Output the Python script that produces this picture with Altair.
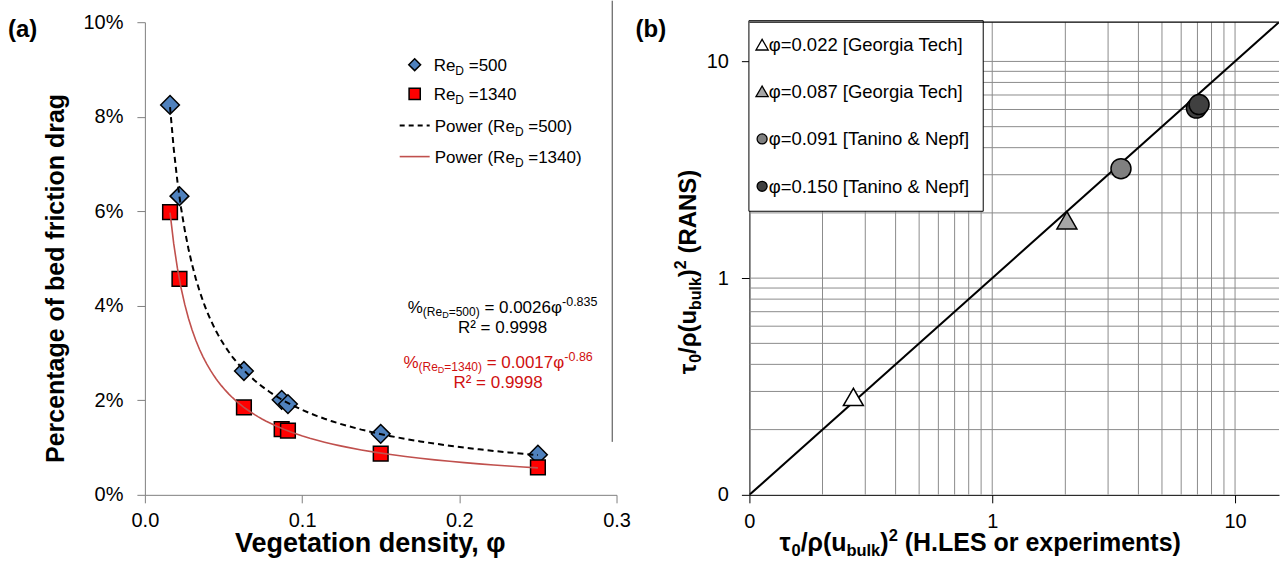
import altair as alt
import pandas as pd

FONT = "Liberation Sans"

# ---------------- data: (a) bed friction share vs vegetation density ----------------
phi = [0.016, 0.022, 0.063, 0.087, 0.091, 0.150, 0.250]
drag_re500 = [0.0825, 0.0632, 0.0262, 0.0201, 0.0192, 0.0129, 0.0085]
drag_re1340 = [0.0598, 0.0457, 0.0185, 0.0139, 0.0136, 0.0087, 0.0058]

# ---------------- data: (b) RANS vs H.LES / experiments ----------------
b_series = ["φ=0.022 [Georgia Tech]", "φ=0.087 [Georgia Tech]",
            "φ=0.091 [Tanino & Nepf]", "φ=0.150 [Tanino & Nepf]"]
b_point_series = [0, 1, 2, 3, 3]
b_les = [0.268, 2.03, 3.39, 6.93, 7.11]
b_rans = [0.283, 1.85, 3.20, 6.09, 6.32]
b_fill = ["#FFFFFF", "#A6A6A6", "#808080", "#404040"]
b_shape = ["triangle-up", "triangle-up", "circle", "circle"]
b_size = [400, 400, 320, 320]

grid_minor = [0.2, 0.3, 0.4, 0.5, 0.6, 0.7, 0.8, 0.9, 1, 2, 3, 4, 5, 6, 7, 8, 9, 10]
LOG_MAX = 15.17

# ---------------- rich text helpers (sub/superscripts) ----------------
REG = {' ': .278, '(': .333, ')': .333, '%': .889, '-': .333, '.': .278, '=': .584,
       'D': .722, 'P': .667, 'R': .722, 'e': .556, 'o': .556, 'w': .722, 'r': .333,
       '²': .333, 'φ': .65, '[': .278, ']': .278, 'G': .778, 'g': .556, 'i': .222,
       'a': .556, 'T': .611, 'c': .5, 'h': .556, 'n': .556, '&': .667, 'N': .722,
       'p': .556, 'f': .278}
BOLD = {' ': .278, '(': .333, ')': .333, '/': .278, '.': .278, 'A': .722, 'E': .667,
        'H': .722, 'L': .611, 'N': .722, 'R': .722, 'S': .667, 'b': .611, 'e': .556,
        'i': .278, 'k': .556, 'l': .278, 'm': .889, 'n': .611, 'o': .611, 'p': .611,
        'r': .389, 's': .556, 't': .333, 'u': .611, 'x': .556, 'τ': .48, 'ρ': .61,
        'a': .556}


def text_width(s, size, bold=False):
    table = BOLD if bold else REG
    return sum(table.get(ch, 0.556) for ch in s) * size


def rich(runs, x0, y0, bold=False, vertical=False, color="black", anchor="left"):
    """Lay out runs of (text, font size, baseline shift) one after another.

    Leading blanks would be collapsed by the SVG renderer, so they are
    turned into an offset instead of being drawn.
    """
    total = sum(text_width(t, s, bold) for t, s, _ in runs)
    off = -total / 2 if anchor == "center" else 0.0
    rows = []
    for t, s, sh in runs:
        body = t.lstrip(" ")
        off += text_width(t[:len(t) - len(body)], s, bold)
        if vertical:
            rows.append(dict(t=body, px=x0 + sh, py=y0 - off, fs=s, c=color))
        else:
            rows.append(dict(t=body, px=x0 + off, py=y0 + sh, fs=s, c=color))
        off += text_width(body, s, bold)
    return rows


def text_layer(rows, bold=False, vertical=False):
    return alt.Chart(pd.DataFrame(rows)).mark_text(
        align="left", baseline="alphabetic", font=FONT,
        fontWeight="bold" if bold else "normal",
        angle=270 if vertical else 0,
    ).encode(
        x=alt.X("px:Q", scale=None, title=None),
        y=alt.Y("py:Q", scale=None, title=None),
        text="t:N",
        size=alt.Size("fs:Q", scale=None, legend=None),
        color=alt.Color("c:N", scale=None, legend=None),
    )


# ============================ panel (a) ============================
W_A, H_A = 472, 473
df_a = pd.DataFrame({
    "phi": phi * 2,
    "drag": drag_re500 + drag_re1340,
    "series": ["500"] * len(phi) + ["1340"] * len(phi),
})

x_a = alt.X("phi:Q", scale=alt.Scale(domain=[0, 0.3], nice=False),
            axis=alt.Axis(values=[0, 0.1, 0.2, 0.3], format=".1f", grid=False,
                          labelFlush=False, labelOverlap=False,
                          title="Vegetation density, φ", titleFontSize=27,
                          titleFontWeight="bold", titleX=225, titleY=49,
                          titleBaseline="middle",
                          labelFontSize=20, labelPadding=8, tickSize=8,
                          domainColor="#7F7F7F", tickColor="#7F7F7F",
                          labelColor="black", titleColor="black"))
y_a = alt.Y("drag:Q", scale=alt.Scale(domain=[0, 0.1], nice=False),
            axis=alt.Axis(values=[0, 0.02, 0.04, 0.06, 0.08, 0.1], format=".0%",
                          grid=False, labelFlush=False, labelOverlap=False,
                          title="Percentage of bed friction drag",
                          titleFontSize=25, titleFontWeight="bold", titleX=-89,
                          titleY=256, titleBaseline="middle", titleAngle=-90,
                          labelFontSize=20, labelPadding=14, tickSize=8,
                          domainColor="#7F7F7F", tickColor="#7F7F7F",
                          labelColor="black", titleColor="black"))

base_a = alt.Chart(df_a)
pts_500 = base_a.transform_filter(alt.datum.series == "500").mark_point(
    shape="diamond", size=350, filled=True, fill="#4F81BD", stroke="black",
    strokeWidth=1.5, opacity=1).encode(x=x_a, y=y_a)
pts_1340 = base_a.transform_filter(alt.datum.series == "1340").mark_point(
    shape="square", size=216, filled=True, fill="#FF0000", stroke="black",
    strokeWidth=1.5, opacity=1).encode(x=x_a, y=y_a)
fit_500 = base_a.transform_filter(alt.datum.series == "500").transform_regression(
    "phi", "drag", method="pow", extent=[0.016, 0.25]
).mark_line(color="black", strokeDash=[6, 4], strokeWidth=2).encode(x=x_a, y=y_a)
fit_1340 = base_a.transform_filter(alt.datum.series == "1340").transform_regression(
    "phi", "drag", method="pow", extent=[0.016, 0.25]
).mark_line(color="#C0504D", strokeWidth=1.6).encode(x=x_a, y=y_a)

# legend of panel (a)
leg_a_sym = alt.Chart(pd.DataFrame({
    "px": [270, 270], "py": [42.5, 71.8], "shape": ["diamond", "square"],
    "fill": ["#4F81BD", "#FF0000"], "sz": [140, 125]})).mark_point(
    filled=True, stroke="black", strokeWidth=1.5, opacity=1).encode(
    x=alt.X("px:Q", scale=None), y=alt.Y("py:Q", scale=None),
    shape=alt.Shape("shape:N", scale=None, legend=None),
    fill=alt.Fill("fill:N", scale=None, legend=None),
    size=alt.Size("sz:Q", scale=None, legend=None))
leg_a_dash = alt.Chart(pd.DataFrame({"px": [255], "px2": [285], "py": [103.5]})).mark_rule(
    color="black", strokeDash=[5, 4], strokeWidth=2).encode(
    x=alt.X("px:Q", scale=None), x2="px2:Q", y=alt.Y("py:Q", scale=None))
leg_a_line = alt.Chart(pd.DataFrame({"px": [255], "px2": [285], "py": [134.5]})).mark_rule(
    color="#C0504D", strokeWidth=1.6).encode(
    x=alt.X("px:Q", scale=None), x2="px2:Q", y=alt.Y("py:Q", scale=None))

reg_rows = []
reg_rows += rich([("Re", 17, 0), ("D", 12, 4), (" =500", 17, 0)], 289, 48.5)
reg_rows += rich([("Re", 17, 0), ("D", 12, 4), (" =1340", 17, 0)], 289, 77.8)
reg_rows += rich([("Power (Re", 17, 0), ("D", 12, 4), (" =500)", 17, 0)], 290, 109.5)
reg_rows += rich([("Power (Re", 17, 0), ("D", 12, 4), (" =1340)", 17, 0)], 290, 140.5)
# fitted power laws
RED_TXT = "#D01010"
reg_rows += rich([("%", 17, 0), ("(Re", 12, 3), ("D", 9, 5), ("=500)", 12, 3),
                  (" = 0.0026φ", 17, 0), ("-0.835", 12.5, -7)], 358, 291, anchor="center")
reg_rows += rich([("R² = 0.9998", 17, 0)], 358, 311, anchor="center")
reg_rows += rich([("%", 17, 0), ("(Re", 12, 3), ("D", 9, 5), ("=1340)", 12, 3),
                  (" = 0.0017φ", 17, 0), ("-0.86", 12.5, -7)], 353.5, 346, anchor="center",
                 color=RED_TXT)
reg_rows += rich([("R² = 0.9998", 17, 0)], 353.5, 366, anchor="center", color=RED_TXT)
text_a = text_layer(reg_rows)
tag_a = text_layer(rich([("(a)", 24, 0)], -137, 15, bold=True), bold=True)

edge_a = alt.Chart(pd.DataFrame({"px": [467.7], "py": [-21.5], "py2": [420]})).mark_rule(
    color="#404040", strokeWidth=1).encode(
    x=alt.X("px:Q", scale=None), y=alt.Y("py:Q", scale=None), y2="py2:Q")

panel_a = alt.layer(
    pts_500, pts_1340, fit_500, fit_1340, leg_a_sym, leg_a_dash, leg_a_line,
    text_a, tag_a, edge_a
).properties(width=W_A, height=H_A)

# ============================ panel (b) ============================
W_B, H_B = 530, 473
sc_b = alt.Scale(type="log", domain=[0.1, LOG_MAX], nice=False)
ax_bx = alt.Axis(values=[0.1, 1, 10], format=".0f", grid=False, title=None,
                 labelFlush=False, labelFontSize=20, labelPadding=9, tickSize=8,
                 tickColor="black", domainColor="black", labelColor="black")
ax_by = alt.Axis(values=[0.1, 1, 10], format=".0f", grid=False, title=None,
                 labelFlush=False, labelFontSize=20, labelPadding=13, tickSize=8,
                 tickColor="black", domainColor="black", labelColor="black")
x_b = alt.X("x:Q", scale=sc_b, axis=ax_bx)
y_b = alt.Y("y:Q", scale=sc_b, axis=ax_by)

grid_v = alt.Chart(pd.DataFrame({"x": grid_minor})).mark_rule(
    color="#8C8C8C", strokeWidth=1, clip=True).encode(x=x_b)
grid_h = alt.Chart(pd.DataFrame({"y": grid_minor})).mark_rule(
    color="#8C8C8C", strokeWidth=1, clip=True).encode(y=y_b)
top_edge = alt.Chart(pd.DataFrame({"y": [LOG_MAX]})).mark_rule(
    color="black", strokeWidth=1.2).encode(y=y_b)
one_to_one = alt.Chart(pd.DataFrame({"x": [0.1, LOG_MAX], "y": [0.1, LOG_MAX]})).mark_line(
    color="black", strokeWidth=2, clip=True).encode(x=x_b, y=y_b)

df_b = pd.DataFrame({
    "x": b_les, "y": b_rans,
    "series": [b_series[i] for i in b_point_series],
})
pts_b = alt.Chart(df_b).mark_point(filled=True, stroke="black", strokeWidth=1.5,
                                   opacity=1).encode(
    x=x_b, y=y_b,
    fill=alt.Fill("series:N", scale=alt.Scale(domain=b_series, range=b_fill), legend=None),
    shape=alt.Shape("series:N", scale=alt.Scale(domain=b_series, range=b_shape), legend=None),
    size=alt.Size("series:N", scale=alt.Scale(domain=b_series, range=b_size), legend=None),
)

# legend box of panel (b)
leg_box = alt.Chart(pd.DataFrame({"px": [-0.5], "px2": [234], "py": [-1.5], "py2": [189.2]})).mark_rect(
    fill="white", stroke="black", strokeWidth=1).encode(
    x=alt.X("px:Q", scale=None), x2="px2:Q", y=alt.Y("py:Q", scale=None), y2="py2:Q")
leg_b_sym = alt.Chart(pd.DataFrame({
    "px": [12.7] * 4, "py": [22.5, 69.2, 116.8, 164.2],
    "shape": b_shape, "fill": b_fill, "sz": [150, 150, 100, 100]})).mark_point(
    filled=True, stroke="black", strokeWidth=1.3, opacity=1).encode(
    x=alt.X("px:Q", scale=None), y=alt.Y("py:Q", scale=None),
    shape=alt.Shape("shape:N", scale=None, legend=None),
    fill=alt.Fill("fill:N", scale=None, legend=None),
    size=alt.Size("sz:Q", scale=None, legend=None))
leg_rows = []
for lab, yy in zip(b_series, [29, 75.7, 123.3, 170.7]):
    leg_rows += rich([(lab, 18.5, 0)], 19.3, yy)
leg_b_txt = text_layer(leg_rows)

title_runs_x = [("τ", 25, 0), ("0", 16.5, 5), ("/ρ(u", 25, 0), ("bulk", 16.5, 5),
                (")", 25, 0), ("2", 16.5, -10), (" (H.LES or experiments)", 25, 0)]
title_runs_y = [("τ", 24, 0), ("0", 16, 5), ("/ρ(u", 24, 0), ("bulk", 16, 5), (")", 24, 0),
                ("2", 16, -10), (" (RANS)", 24, 0)]
tx_b = text_layer(rich(title_runs_x, 231, 529, bold=True, anchor="center"), bold=True)
ty_b = text_layer(rich(title_runs_y, -53, 250, bold=True, vertical=True, anchor="center"),
                  bold=True, vertical=True)
tag_b = text_layer(rich([("(b)", 24, 0)], -114, 15, bold=True), bold=True)

panel_b = alt.layer(
    grid_v, grid_h, leg_box, one_to_one, pts_b, top_edge, leg_b_sym, leg_b_txt,
    tx_b, ty_b, tag_b
).properties(width=W_B, height=H_B)

chart = alt.hconcat(panel_a, panel_b, spacing=133, bounds="flush").properties(
    padding={"left": 8, "top": 0, "right": 0, "bottom": 0}
).configure_view(stroke=None).configure_axis(
    labelFont=FONT, titleFont=FONT
).configure_text(font=FONT)

chart.save("out.html", embed_options={"renderer": "svg", "actions": False})
